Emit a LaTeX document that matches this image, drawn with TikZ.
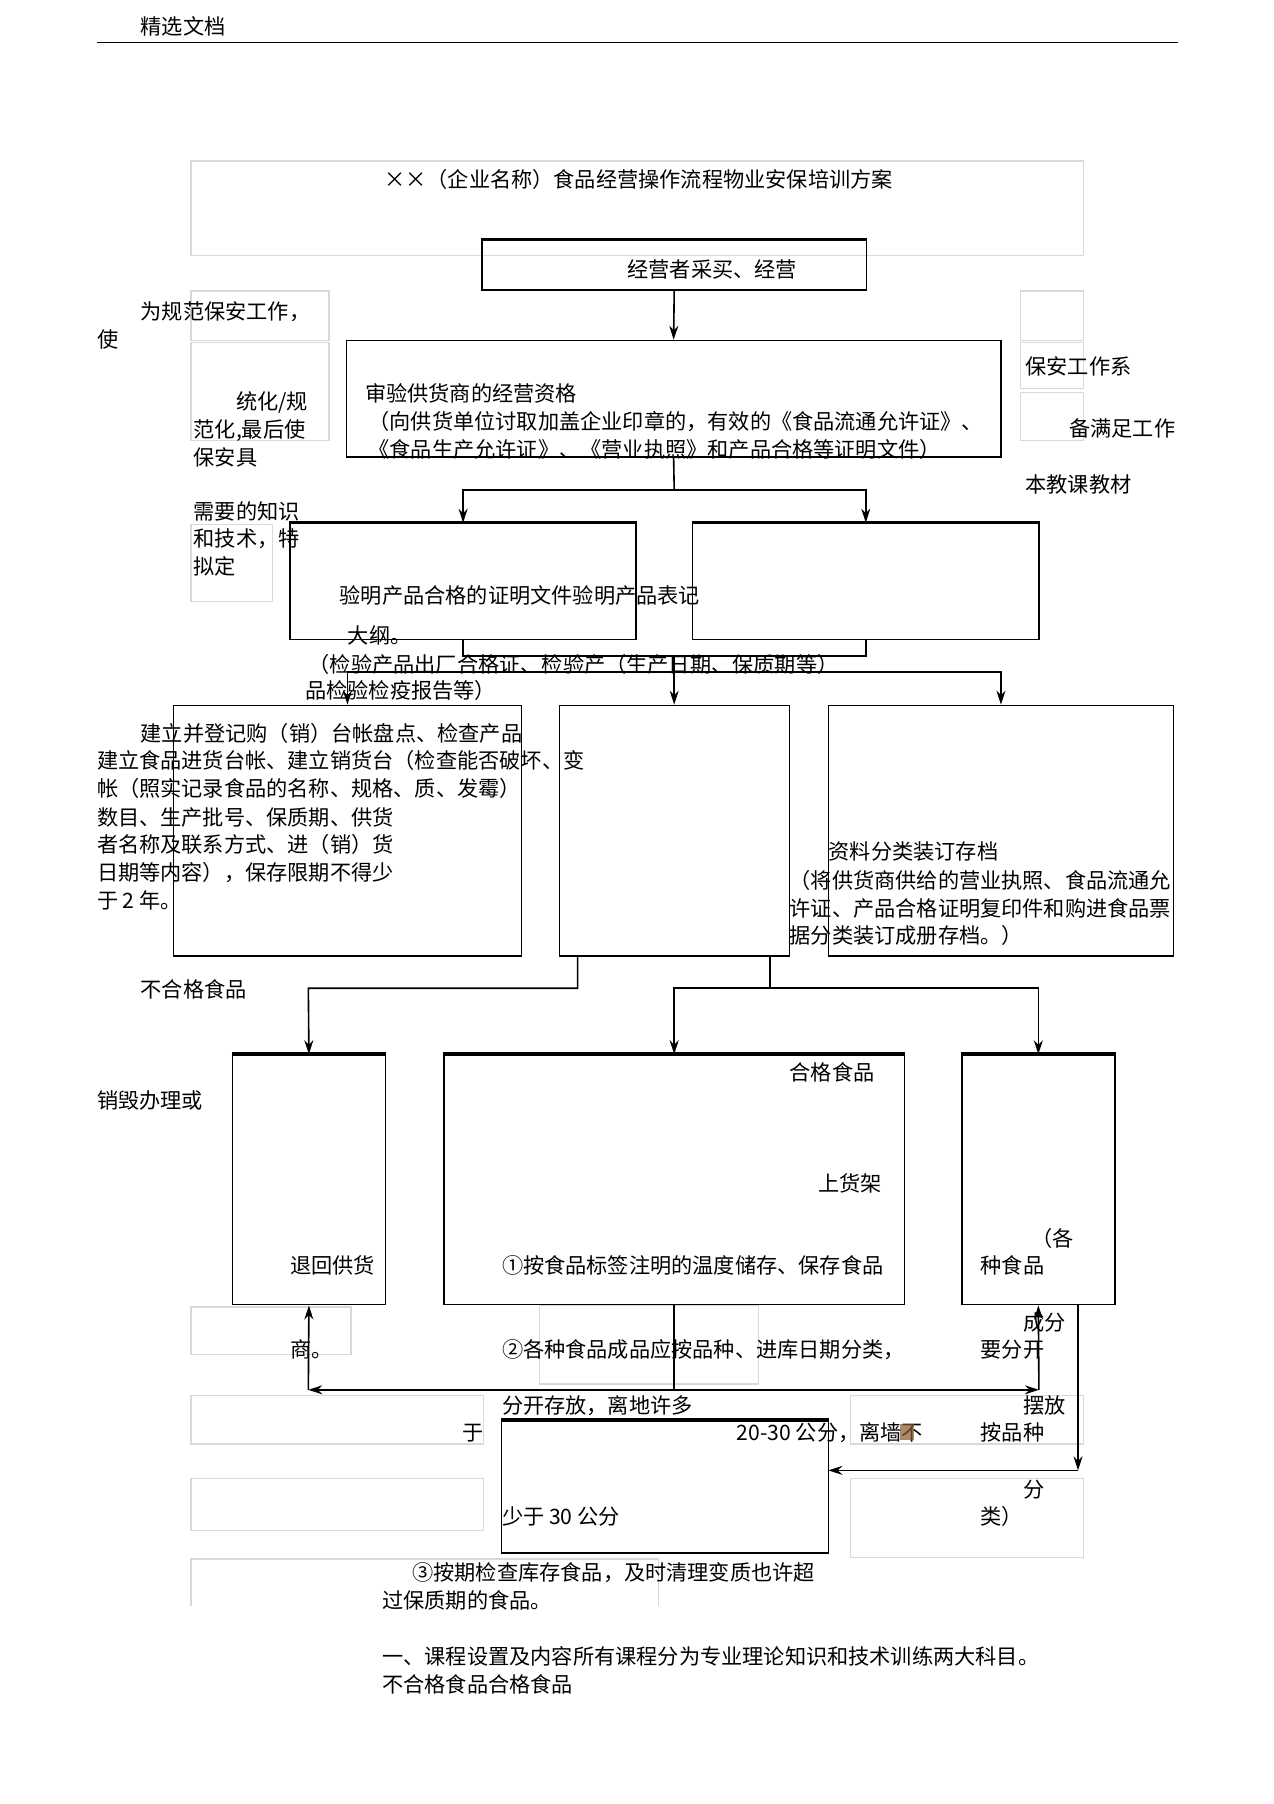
\documentclass[tikz,border=0pt]{standalone}
\usepackage{fontspec}
\setmainfont{Noto Sans CJK SC}
\usetikzlibrary{arrows.meta,fit}
\newcommand\cjkfs{\fontsize{10.6}{12.5}\selectfont}
\begin{document}
\begin{tikzpicture}[x=0.5755pt,y=-0.5755pt,
  tx/.style={anchor=west,inner sep=0pt,font=\cjkfs,text height=8pt,text depth=2pt,yshift=-1.2pt},
  box/.style={draw=black,line width=0.8pt,inner sep=0pt},
  lbox/.style={draw=gray!30,line width=0.6pt,inner sep=0pt},
  topbar/.style={line width=1.8pt},
  arr/.style={-{Stealth[length=7pt,width=4.5pt]},line width=0.8pt},
  ln/.style={line width=0.8pt}]
\useasboundingbox[fill=white] (0,0) rectangle (1107,1568);

% header
\node[tx] (hdr) at (122,23) {精选文档};
\draw[line width=0.6pt] (84,37) -- (1024,37);

% light boxes
\node[lbox,fit={(166,140)(942,222)}] (Ttl) {};
\node[lbox,fit={(166,253)(286,296)}] (L1) {};
\node[lbox,fit={(166,298)(286,383)}] (L2) {};
\node[lbox,fit={(166,456)(237,523)}] (L3) {};
\node[lbox,fit={(887,253)(942,296)}] (R1) {};
\node[lbox,fit={(887,298)(942,338)}] (R2) {};
\node[lbox,fit={(887,341)(942,383)}] (R3) {};
\node[lbox,fit={(166,1136)(305,1177)}] (L4) {};
\node[lbox,fit={(469,1135)(659,1203)}] (M1) {};
\node[lbox,fit={(166,1213)(420,1255)}] (L5) {};
\node[lbox,fit={(166,1285)(420,1330)}] (L6) {};
\node[lbox,fit={(739,1213)(942,1255)}] (R4) {};
\node[lbox,fit={(739,1285)(942,1354)}] (R5) {};
\draw[draw=gray!30,line width=0.6pt] (166,1396) -- (166,1355) -- (572,1355) -- (572,1396);

% main boxes
\node[box,fit={(419,209)(753,252)}] (A) {};
\draw[topbar] (A.north west) -- (A.north east);
\node[box,fit={(301,296)(870,397)}] (B) {};
\node[box,fit={(252,455)(553,556)}] (C) {};
\draw[topbar] (C.north west) -- (C.north east);
\node[box,fit={(602,455)(903,556)}] (D) {};
\draw[topbar] (D.north west) -- (D.north east);
\node[box,line width=0.6pt,fit={(151,613)(453,831)}] (E) {};
\node[box,line width=0.6pt,fit={(486,613)(686,831)}] (F) {};
\node[box,line width=0.6pt,fit={(720,613)(1020,831)}] (G) {};
\node[box,fit={(202,917)(335,1134)}] (H) {};
\draw[topbar] (H.north west) -- (H.north east);
\node[box,fit={(386,917)(786,1134)}] (I) {};
\draw[topbar] (I.north west) -- (I.north east);
\node[box,fit={(836,917)(969,1134)}] (J) {};
\draw[topbar] (J.north west) -- (J.north east);
\node[box,fit={(436,1235)(720,1350)}] (K) {};
\draw[topbar] (K.north west) -- (K.north east);

% connectors
\draw[arr] (A.south) -- (B.north);
\coordinate (j1) at (586,426);
\draw[ln] (B.south) -- (j1);
\draw[arr] (j1) -| (C.north);
\draw[arr] (j1) -| (D.north);
\coordinate (j2) at (586,570);
\draw[ln] (C.south) |- (j2);
\draw[ln] (D.south) |- (j2);
\coordinate (j3) at (586,584);
\draw[ln] (j2) -- (j3);
\draw[arr] (j3) -| (E.north);
\draw[arr] (j3) -- (F.north);
\draw[arr] (j3) -| (G.north);
\coordinate (f1) at (502,831);
\coordinate (f2) at (669,831);
\coordinate (j4) at (669,859);
\coordinate (j5) at (586,859);
\draw[arr] (f1) |- (268,859) -- (H.north);
\draw[ln] (f2) -- (j4);
\draw[arr] (j4) -- (j5) -- (I.north);
\draw[arr] (j4) -| (J.north);
\coordinate (j6) at (586,1208);
\coordinate (jl) at (268,1208);
\coordinate (jr) at (903,1208);
\draw[ln] (I.south) -- (j6);
\draw[arr] (j6) -- (jl);
\draw[arr] (j6) -- (jr);
\draw[arr] (jl) -- (H.south);
\draw[arr] (jr) -- (J.south);
\coordinate (j7) at (937,1134);
\coordinate (j8) at (937,1278);
\coordinate (k1) at (720,1278);
\draw[arr] (j7) -- (j8);
\draw[arr] (j8) -- (k1);

% texts
\node[tx,anchor=center] (title) at (555,156) {××（企业名称）食品经营操作流程物业安保培训方案};
\node[tx] (ta) at (545,234) {经营者采买、经营};
\node[tx] (l1) at (122,270) {为规范保安工作，};
\node[tx] (l2) at (84,295) {使};
\node[tx] (l3) at (205,349) {统化/规};
\node[tx] (l4) at (168,373) {范化,最后使};
\node[tx] (l5) at (168,397) {保安具};
\node[tx] (l6) at (168,444) {需要的知识};
\node[tx] (l7) at (168,468) {和技术，特};
\node[tx] (l8) at (168,492) {拟定};
\node[tx] (r1) at (891,318) {保安工作系};
\node[tx] (r2) at (929,372) {备满足工作};
\node[tx] (r3) at (891,421) {本教课教材};
\node[tx] (b1) at (317,342) {审验供货商的经营资格};
\node[tx] (b2) at (320,366) {（向供货单位讨取加盖企业印章的，有效的《食品流通允许证》、};
\node[tx] (b3) at (320,390) {《食品生产允许证》、《营业执照》和产品合格等证明文件）};
\node[tx] (c1) at (295,517) {验明产品合格的证明文件验明产品表记};
\node[tx] (c2) at (302,552) {大纲。};
\node[tx] (c3) at (268,577) {（检验产品出厂合格证、检验产（生产日期、保质期等）};
\node[tx] (c4) at (265,600) {品检验检疫报告等）};
\node[tx] (e1) at (122,637) {建立并登记购（销）台帐盘点、检查产品};
\node[tx] (e2) at (84,661) {建立食品进货台帐、建立销货台（检查能否破坏、变};
\node[tx] (e3) at (84,685) {帐（照实记录食品的名称、规格、质、发霉）};
\node[tx] (e4) at (84,710) {数目、生产批号、保质期、供货};
\node[tx] (e5) at (84,734) {者名称及联系方式、进（销）货};
\node[tx] (e6) at (84,758) {日期等内容），保存限期不得少};
\node[tx] (e7) at (84,782) {于 2 年。};
\node[tx] (g1) at (720,740) {资料分类装订存档};
\node[tx] (g2) at (686,765) {（将供货商供给的营业执照、食品流通允};
\node[tx] (g3) at (686,789) {许证、产品合格证明复印件和购进食品票};
\node[tx] (g4) at (686,813) {据分类装订成册存档。）};
\node[tx] (n1) at (122,860) {不合格食品};
\node[tx] (n2) at (84,956) {销毁办理或};
\node[tx] (i1) at (686,932) {合格食品};
\node[tx] (i2) at (711,1028) {上货架};
\node[tx] (s1) at (896,1076) {（各};
\node[tx] (h1) at (252,1100) {退回供货};
\node[tx] (i3) at (436,1100) {①按食品标签注明的温度储存、保存食品};
\node[tx] (s2) at (852,1100) {种食品};
\node[tx] (s3) at (889,1149) {成分};
\node[tx] (h2) at (252,1173) {商。};
\node[tx] (i4) at (436,1173) {②各种食品成品应按品种、进库日期分类，};
\node[tx] (s4) at (852,1173) {要分开};
\node[tx] (i5) at (436,1221) {分开存放，离地许多};
\node[tx] (s5) at (889,1221) {摆放};
\node[tx] (y1) at (402,1245) {于};
\node[tx] (i6) at (640,1245) {20-30 公分，离墙不};
\fill[brown!70!black,opacity=0.7] (782,1238) rectangle (794,1252);
\node[tx] (s6) at (852,1245) {按品种};
\node[tx] (s7) at (889,1294) {分};
\node[tx] (k2) at (436,1318) {少于 30 公分};
\node[tx] (s8) at (852,1318) {类）};
\node[tx] (m1) at (358,1366) {③按期检查库存食品，及时清理变质也许超};
\node[tx] (m2) at (332,1391) {过保质期的食品。};
\node[tx] (m3) at (332,1439) {一、课程设置及内容所有课程分为专业理论知识和技术训练两大科目。};
\node[tx] (m4) at (332,1464) {不合格食品合格食品};
\end{tikzpicture}
\end{document}
